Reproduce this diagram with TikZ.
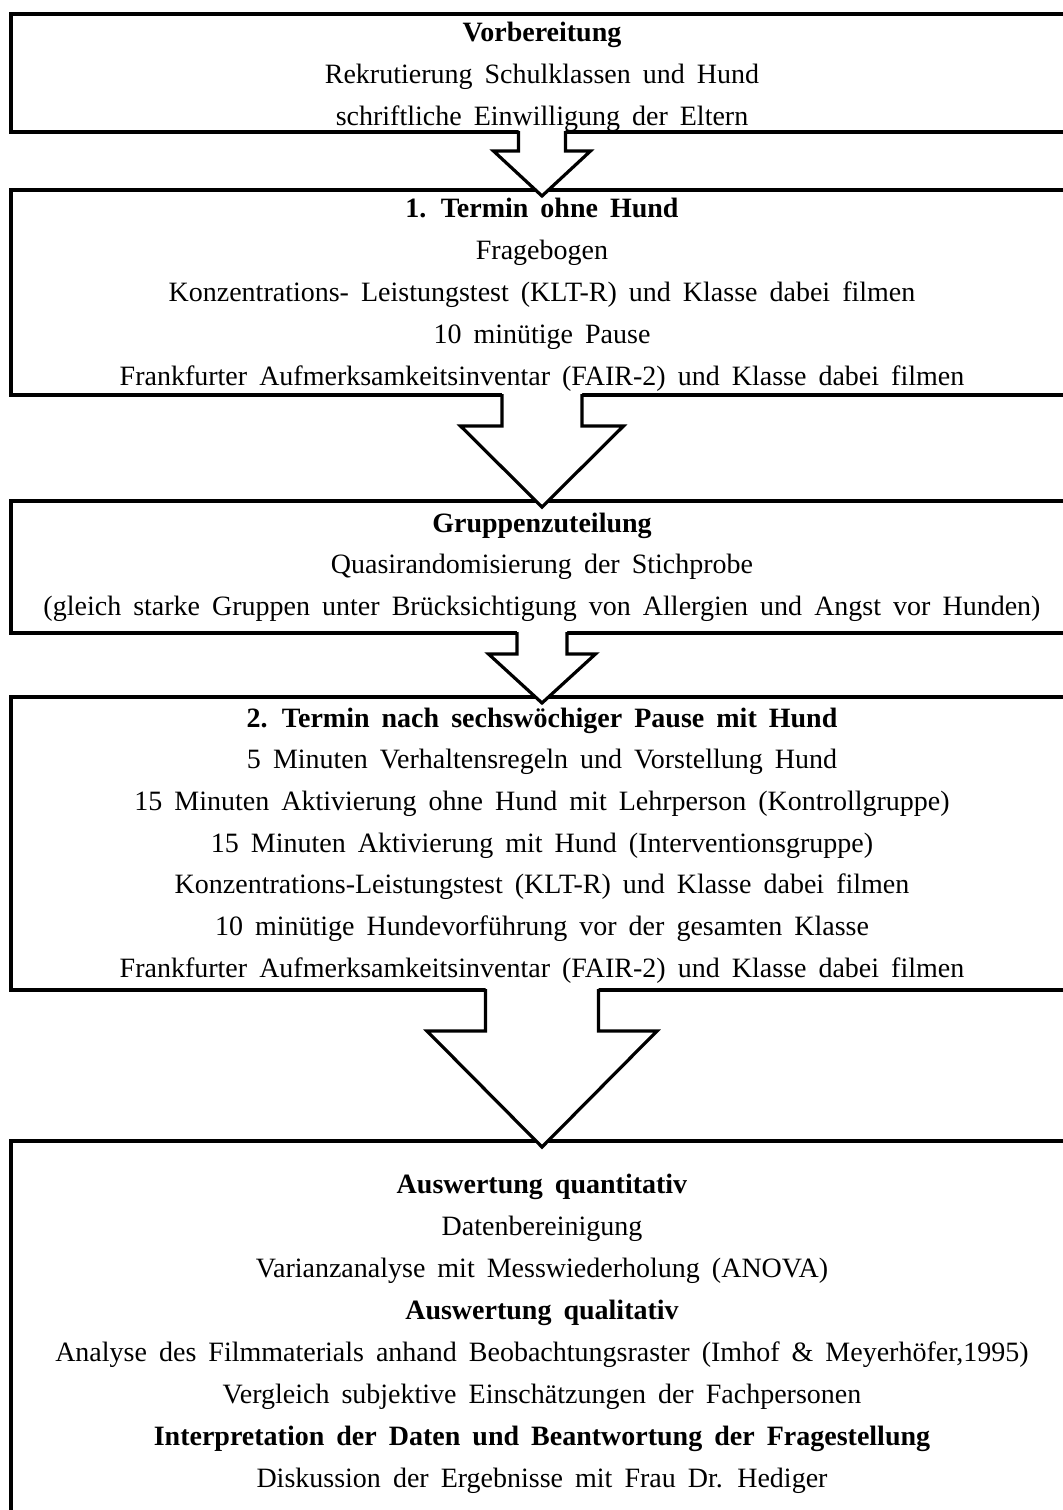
\documentclass[tikz,border=0pt]{standalone}
\usepackage{fontspec}
\setmainfont{Liberation Serif}[WordSpace=1.72]
\usepackage{tikz}
\usetikzlibrary{calc}

\begin{document}
\begin{tikzpicture}[x=0.5pt,y=-0.5pt,
		stagebox/.style={draw=black, line width=2pt, fill=white, outer sep=0pt, inner sep=0pt, minimum width=531pt},
		boxtext/.style={anchor=base, inner sep=0pt, font=\fontsize{14}{16}\selectfont},
		blockarrow/.style={draw=black, line width=1.6pt, line join=miter}]
		\clip (0,0) rectangle (1063,1510);

		% Boxes
		\node[stagebox, minimum height=59pt] (vorb) at (542,73) {};
		\node[stagebox, minimum height=102.5pt] (terminA) at (542,292.5) {};
		\node[stagebox, minimum height=66pt] (gruppe) at (542,567) {};
		\node[stagebox, minimum height=146.5pt] (terminB) at (542,843.5) {};
		\node[stagebox, minimum height=199.5pt] (ausw) at (542,1340.5) {};

		% Arrows between the boxes
		\foreach \a/\b/\sw/\hw/\sl in {vorb/terminA/23.5/48.5/19, terminA/gruppe/40/81.5/31, gruppe/terminB/25/53.5/21, terminB/ausw/56.5/115/41}{
			\fill[white] ($(\a.south)+(-\sw,-3)$) -- ++(0,\sl+3) -- ++(\sw-\hw,0) -- ($(\b.north)+(0,6)$) -- ($(\a.south)+(\hw,\sl)$) -- ++(\sw-\hw,0) -- ++(0,-\sl-3) -- cycle;
			\draw[blockarrow] ($(\a.south)+(-\sw,-1)$) -- ++(0,\sl+1) -- ++(\sw-\hw,0) -- ($(\b.north)+(0,6)$) -- ($(\a.south)+(\hw,\sl)$) -- ++(\sw-\hw,0) -- ++(0,-\sl-1);
		}

		% Vorbereitung
		\foreach \t [count=\i] in {{\textbf{Vorbereitung}}, Rekrutierung Schulklassen und Hund, schriftliche Einwilligung der Eltern}{
			\node[boxtext] (vorb\i) at (542,{41+42*(\i-1)}) {\t};
		}

		% 1. Termin
		\foreach \t [count=\i] in {{\textbf{1. Termin ohne Hund}}, Fragebogen, {Konzentrations- Leistungstest (KLT-R) und Klasse dabei filmen}, 10 minütige Pause, {Frankfurter Aufmerksamkeitsinventar (FAIR-2) und Klasse dabei filmen}}{
			\node[boxtext] (terminA\i) at (542,{217+42*(\i-1)}) {\t};
		}

		% Gruppenzuteilung
		\foreach \t [count=\i] in {{\textbf{Gruppenzuteilung}}, Quasirandomisierung der Stichprobe, {(gleich starke Gruppen unter Brücksichtigung von Allergien und Angst vor Hunden)}}{
			\node[boxtext] (gruppe\i) at (542,{532+41.5*(\i-1)}) {\t};
		}

		% 2. Termin
		\foreach \t [count=\i] in {{\textbf{2. Termin nach sechswöchiger Pause mit Hund}}, 5 Minuten Verhaltensregeln und Vorstellung Hund, {15 Minuten Aktivierung ohne Hund mit Lehrperson (Kontrollgruppe)}, {15 Minuten Aktivierung mit Hund (Interventionsgruppe)}, {Konzentrations-Leistungstest (KLT-R) und Klasse dabei filmen}, 10 minütige Hundevorführung vor der gesamten Klasse, {Frankfurter Aufmerksamkeitsinventar (FAIR-2) und Klasse dabei filmen}}{
			\node[boxtext] (terminB\i) at (542,{727+41.7*(\i-1)}) {\t};
		}

		% Auswertung
		\foreach \t [count=\i] in {{\textbf{Auswertung quantitativ}}, Datenbereinigung, {Varianzanalyse mit Messwiederholung (ANOVA)}, {\textbf{Auswertung qualitativ}}, {Analyse des Filmmaterials anhand Beobachtungsraster (Imhof \& Meyerhöfer,1995)}, Vergleich subjektive Einschätzungen der Fachpersonen, {\textbf{Interpretation der Daten und Beantwortung der Fragestellung}}, Diskussion der Ergebnisse mit Frau Dr. Hediger}{
			\node[boxtext] (ausw\i) at (542,{1193+42*(\i-1)}) {\t};
		}
	\end{tikzpicture}
\end{document}
